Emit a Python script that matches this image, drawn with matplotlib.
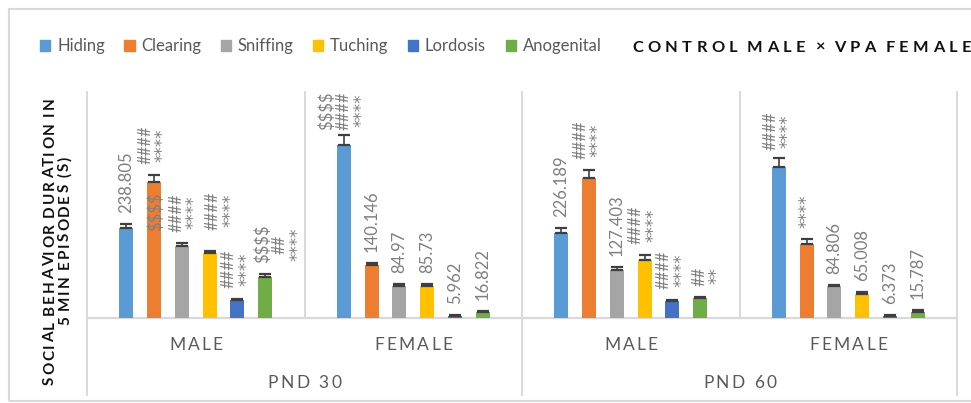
import matplotlib
matplotlib.use("Agg")
import matplotlib.pyplot as plt
import numpy as np
from matplotlib.patches import Rectangle
from matplotlib.transforms import IdentityTransform

plt.rcParams['font.family'] = ['Lato', 'DejaVu Sans']

# ---------------- data ----------------
series_names = ["Hiding", "Clearing", "Sniffing", "Tuching", "Lordosis", "Anogenital"]
series_colors = ["#5B9BD5", "#ED7D31", "#A5A5A5", "#FFC000", "#4472C4", "#70AD47"]
inner_labels = ["MALE", "FEMALE", "MALE", "FEMALE"]
outer_labels = ["PND 30", "PND 60"]
title = "CONTROL MALE \u00d7 VPA FEMALE"
ylabel_lines = ["SOCIAL BEHAVIOR DURATION IN", "5 MIN EPISODES (S)"]

hiding = [238.805, 460.0, 226.189, 400.0]
clearing = [360.0, 140.146, 373.0, 196.0]
sniffing = [190.0, 84.97, 127.403, 84.806]
tuching = [172.0, 85.73, 155.0, 65.008]
lordosis = [47.0, 5.962, 44.0, 6.373]
anogenital = [109.0, 16.822, 52.0, 15.787]

hiding_err = [10, 26, 14, 24]
clearing_err = [19, 6, 19, 13]
sniffing_err = [10, 4, 7, 4]
tuching_err = [6, 4, 11, 4]
lordosis_err = [3, 2, 3, 2]
anogenital_err = [7, 3, 5, 6]

hiding_lbl = ["238.805", "$$$$\n####\n****", "226.189", "####\n****"]
clearing_lbl = ["####\n****", "140.146", "####\n****", "****"]
sniffing_lbl = ["####\n****", "84.97", "127.403", "84.806"]
tuching_lbl = ["####\n****", "85.73", "####\n****", "65.008"]
lordosis_lbl = ["####\n****", "5.962", "####\n****", "6.373"]
anogenital_lbl = ["$$$$\n##\n****", "16.822", "##\n**", "15.787"]
clearing_inner_lbl = ["$$$$", "", "", ""]

values = [hiding, clearing, sniffing, tuching, lordosis, anogenital]
errors = [hiding_err, clearing_err, sniffing_err, tuching_err, lordosis_err, anogenital_err]
labels = [hiding_lbl, clearing_lbl, sniffing_lbl, tuching_lbl, lordosis_lbl, anogenital_lbl]

# label nudges (pixels) for hand-placed labels: (series index, category index) -> (dx, dy)
label_nudge = {(2, 0): (3, 0), (3, 0): (12, 10), (5, 0): (15, 0), (5, 2): (8, 0),
               (0, 1): (0, -6), (0, 3): (0, -3)}

# ---------------- figure ----------------
W, H = 971, 403
PX = 72 / 100  # points per pixel
fig = plt.figure(figsize=(W / 100, H / 100), dpi=100)
ax = fig.add_axes([87 / W, (H - 318) / H, (957 - 87) / W, (318 - 92) / H])
ax.set_xlim(-0.5, 3.5)
ax.set_ylim(0, 600)
for s in ax.spines.values():
    s.set_visible(False)
ax.set_xticks([])
ax.set_yticks([])

grid_c = "#D9D9D9"
ax.axhline(0, color=grid_c, lw=1.6, zorder=0.5, clip_on=False)
below = -(395 - 318) / (318 - 92)
for xb in [-0.5, 0.5, 1.5, 2.5, 3.5]:
    y0 = below if xb in (-0.5, 1.5, 3.5) else 0
    ax.plot([xb, xb], [y0, 1], color=grid_c, lw=1.4, transform=ax.get_xaxis_transform(),
            clip_on=False, zorder=0.5)

renderer = fig.canvas.get_renderer()

cats = np.arange(4)
step = 0.1274
bw = 0.0644
txt_c = "#7F7F7F"
line_gap_px = 17.5
base_gap_px = 11


def line_font(line):
    if set(line) <= {"*"}:
        return dict(family="DejaVu Sans", fontsize=12)
    return dict(family=["Lato", "DejaVu Sans"], fontsize=12)


def place_label(xd, yd, text, dx_px, dy_px):
    lines = text.split("\n")
    n = len(lines)
    anns = []
    for k, ln in enumerate(lines):
        ox = dx_px + (k - (n - 1) / 2) * line_gap_px
        a = ax.annotate(ln, (xd, yd), xytext=(ox * PX, (base_gap_px + dy_px) * PX),
                        textcoords='offset points', rotation=90, ha='center', va='bottom',
                        color=txt_c, parse_math=False, zorder=4, **line_font(ln))
        anns.append((a, ox))
    hs = [a.get_window_extent(renderer).height for a, _ in anns]
    hmax = max(hs)
    for (a, ox), h in zip(anns, hs):
        a.xyann = (ox * PX, (base_gap_px + dy_px + (hmax - h) / 2) * PX)


for i, (vals, err, lbls, col) in enumerate(zip(values, errors, labels, series_colors)):
    x = cats + (i - 2.5) * step
    ax.bar(x, vals, bw, color=col, zorder=2)
    ax.errorbar(x, vals, yerr=[np.zeros(4), err], fmt='none', ecolor="#3F3F3F",
                elinewidth=1.2, capsize=4, capthick=1.6, zorder=3)
    for j in range(4):
        dx, dy = label_nudge.get((i, j), (0, 0))
        place_label(x[j], vals[j] + err[j], lbls[j], dx, dy)
    if i == 1:
        for j in range(4):
            if clearing_inner_lbl[j]:
                ax.annotate(clearing_inner_lbl[j], (x[j], vals[j]), xytext=(2 * PX, -10 * PX),
                            textcoords='offset points', rotation=90, ha='center', va='top',
                            fontsize=12, color=txt_c, parse_math=False, zorder=4)


# ---------------- letter-spaced text helper ----------------
def char_width(ch, **kw):
    t = fig.text(0, 0, "H" + ch + "H", **kw)
    w1 = t.get_window_extent(renderer).width
    t.remove()
    t = fig.text(0, 0, "HH", **kw)
    w0 = t.get_window_extent(renderer).width
    t.remove()
    return w1 - w0


def spaced_text(x, y, s, spacing, word_gap=None, rotation=0, center=True, **kw):
    adv = []
    for c in s:
        if c == " " and word_gap is not None:
            adv.append(word_gap - spacing)
        else:
            adv.append(char_width(c, **kw) + spacing)
    total = sum(adv) - spacing
    pos = -total / 2 if center else 0.0
    for c, a in zip(s, adv):
        if c != " ":
            if rotation == 0:
                fig.text(x + pos, y, c, transform=IdentityTransform(), ha='left', va='baseline',
                         rotation_mode='anchor', **kw)
            else:
                fig.text(x, y + pos, c, transform=IdentityTransform(), ha='left', va='baseline',
                         rotation=90, rotation_mode='anchor', **kw)
        pos += a
    return total


ax_bottom = ax.transAxes.transform((0, 0))[1]
cat_c = "#595959"
for j, lab in enumerate(inner_labels):
    xc = ax.transData.transform((cats[j], 0))[0]
    spaced_text(xc, ax_bottom - 31.5, lab, 2.2, fontsize=12.5, color=cat_c)
for k, lab in enumerate(outer_labels):
    xc = ax.transData.transform((cats[2 * k] + 0.5, 0))[0]
    spaced_text(xc, ax_bottom - 70.5, lab, 2.4, word_gap=9, fontsize=12.5, color=cat_c)

# title
spaced_text(632, H - 51.5, title, 4.4, word_gap=9.5, center=False, fontsize=11.8,
            fontweight='bold', color="#111111")

# y label
spaced_text(54, H - 241, ylabel_lines[0], 1.9, word_gap=6.5, rotation=90, fontsize=11,
            fontweight='bold', color="#111111")
spaced_text(69, H - 241, ylabel_lines[1], 1.9, word_gap=6.5, rotation=90, fontsize=11,
            fontweight='bold', color="#111111")

# legend
handles = [Rectangle((0, 0), 1, 1, color=c) for c in series_colors]
fig.legend(handles, series_names, loc='center left', bbox_to_anchor=(40 / W, 1 - 46 / H),
           ncol=6, frameon=False, fontsize=12, handlelength=0.62, handleheight=0.62,
           handletextpad=0.4, columnspacing=1.17, borderpad=0, borderaxespad=0,
           labelcolor=cat_c)

# chart border
fig.patches.append(Rectangle((9 / W, 2 / H), 2, (H - 11) / H, transform=fig.transFigure,
                             fill=False, edgecolor=grid_c, lw=1.5))

fig.savefig("out.png", dpi=100)
